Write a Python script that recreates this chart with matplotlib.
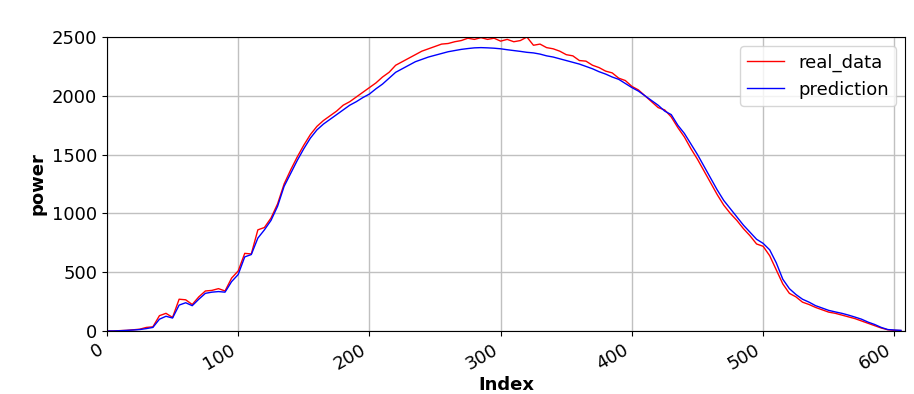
import matplotlib.pyplot as plt
import numpy as np

index = np.arange(0, 610, 5)

real_data = [
    0, 0, 3, 5, 10, 15, 30, 35, 130, 150,
    115, 270, 265, 225, 290, 340, 345, 360, 340, 450,
    510, 660, 655, 860, 880, 960, 1080, 1250, 1370, 1480,
    1580, 1670, 1740, 1790, 1830, 1870, 1920, 1950, 1990, 2030,
    2070, 2110, 2160, 2200, 2260, 2290, 2320, 2350, 2380, 2400,
    2420, 2440, 2445, 2460, 2470, 2490, 2480, 2495, 2480, 2490,
    2465, 2480, 2460, 2470, 2500, 2430, 2440, 2410, 2400, 2380,
    2350, 2340, 2300, 2295, 2260, 2240, 2210, 2195, 2150, 2130,
    2080, 2050, 2000, 1950, 1900, 1880, 1820, 1730, 1650, 1550,
    1460, 1360, 1260, 1160, 1070, 1000, 940, 870, 810, 740,
    720, 640, 520, 400, 320, 290, 245, 225, 200, 180,
    160, 150, 135, 120, 105, 85, 65, 45, 25, 10,
    5, 3,
]

prediction = [
    0, 0, 2, 5, 8, 12, 20, 30, 100, 125,
    110, 220, 240, 215, 270, 320, 330, 335, 330, 420,
    480, 630, 650, 790, 860, 940, 1060, 1230, 1340, 1450,
    1550, 1640, 1710, 1760, 1800, 1840, 1880, 1920, 1950, 1985,
    2015, 2060, 2100, 2150, 2200, 2230, 2260, 2290, 2310, 2330,
    2345, 2360, 2375, 2385, 2395, 2402, 2408, 2410, 2408, 2405,
    2400, 2392, 2385, 2378, 2370, 2365, 2355, 2340, 2330, 2315,
    2300, 2285, 2270, 2250, 2230, 2205, 2185, 2160, 2140, 2105,
    2070, 2040, 2000, 1960, 1920, 1870, 1840, 1750, 1680, 1590,
    1500, 1400, 1300, 1200, 1110, 1040, 970, 900, 840, 780,
    745, 690, 580, 440, 360, 310, 270, 245, 215, 195,
    175, 162, 150, 135, 118, 100, 75, 55, 30, 12,
    8, 5,
]

fig = plt.figure(figsize=(9.14, 3.94), dpi=100)
ax = fig.add_axes([0.117, 0.160, 0.873, 0.746])
ax.plot(index, real_data, color="red", linewidth=1, label="real_data")
ax.plot(index, prediction, color="blue", linewidth=1, label="prediction")
ax.set_xlim(0, 608)
ax.set_ylim(0, 2500)
ax.set_xlabel("Index", fontsize=13, fontweight="bold", labelpad=2)
ax.set_ylabel("power", fontsize=13, fontweight="bold")
ax.tick_params(labelsize=13)
for lbl in ax.get_xticklabels():
    lbl.set_rotation(30)
    lbl.set_ha("right")
ax.grid(True, color="#c0c0c0", linewidth=1)
ax.legend(loc="upper right", fontsize=13)
fig.savefig("out.png")
